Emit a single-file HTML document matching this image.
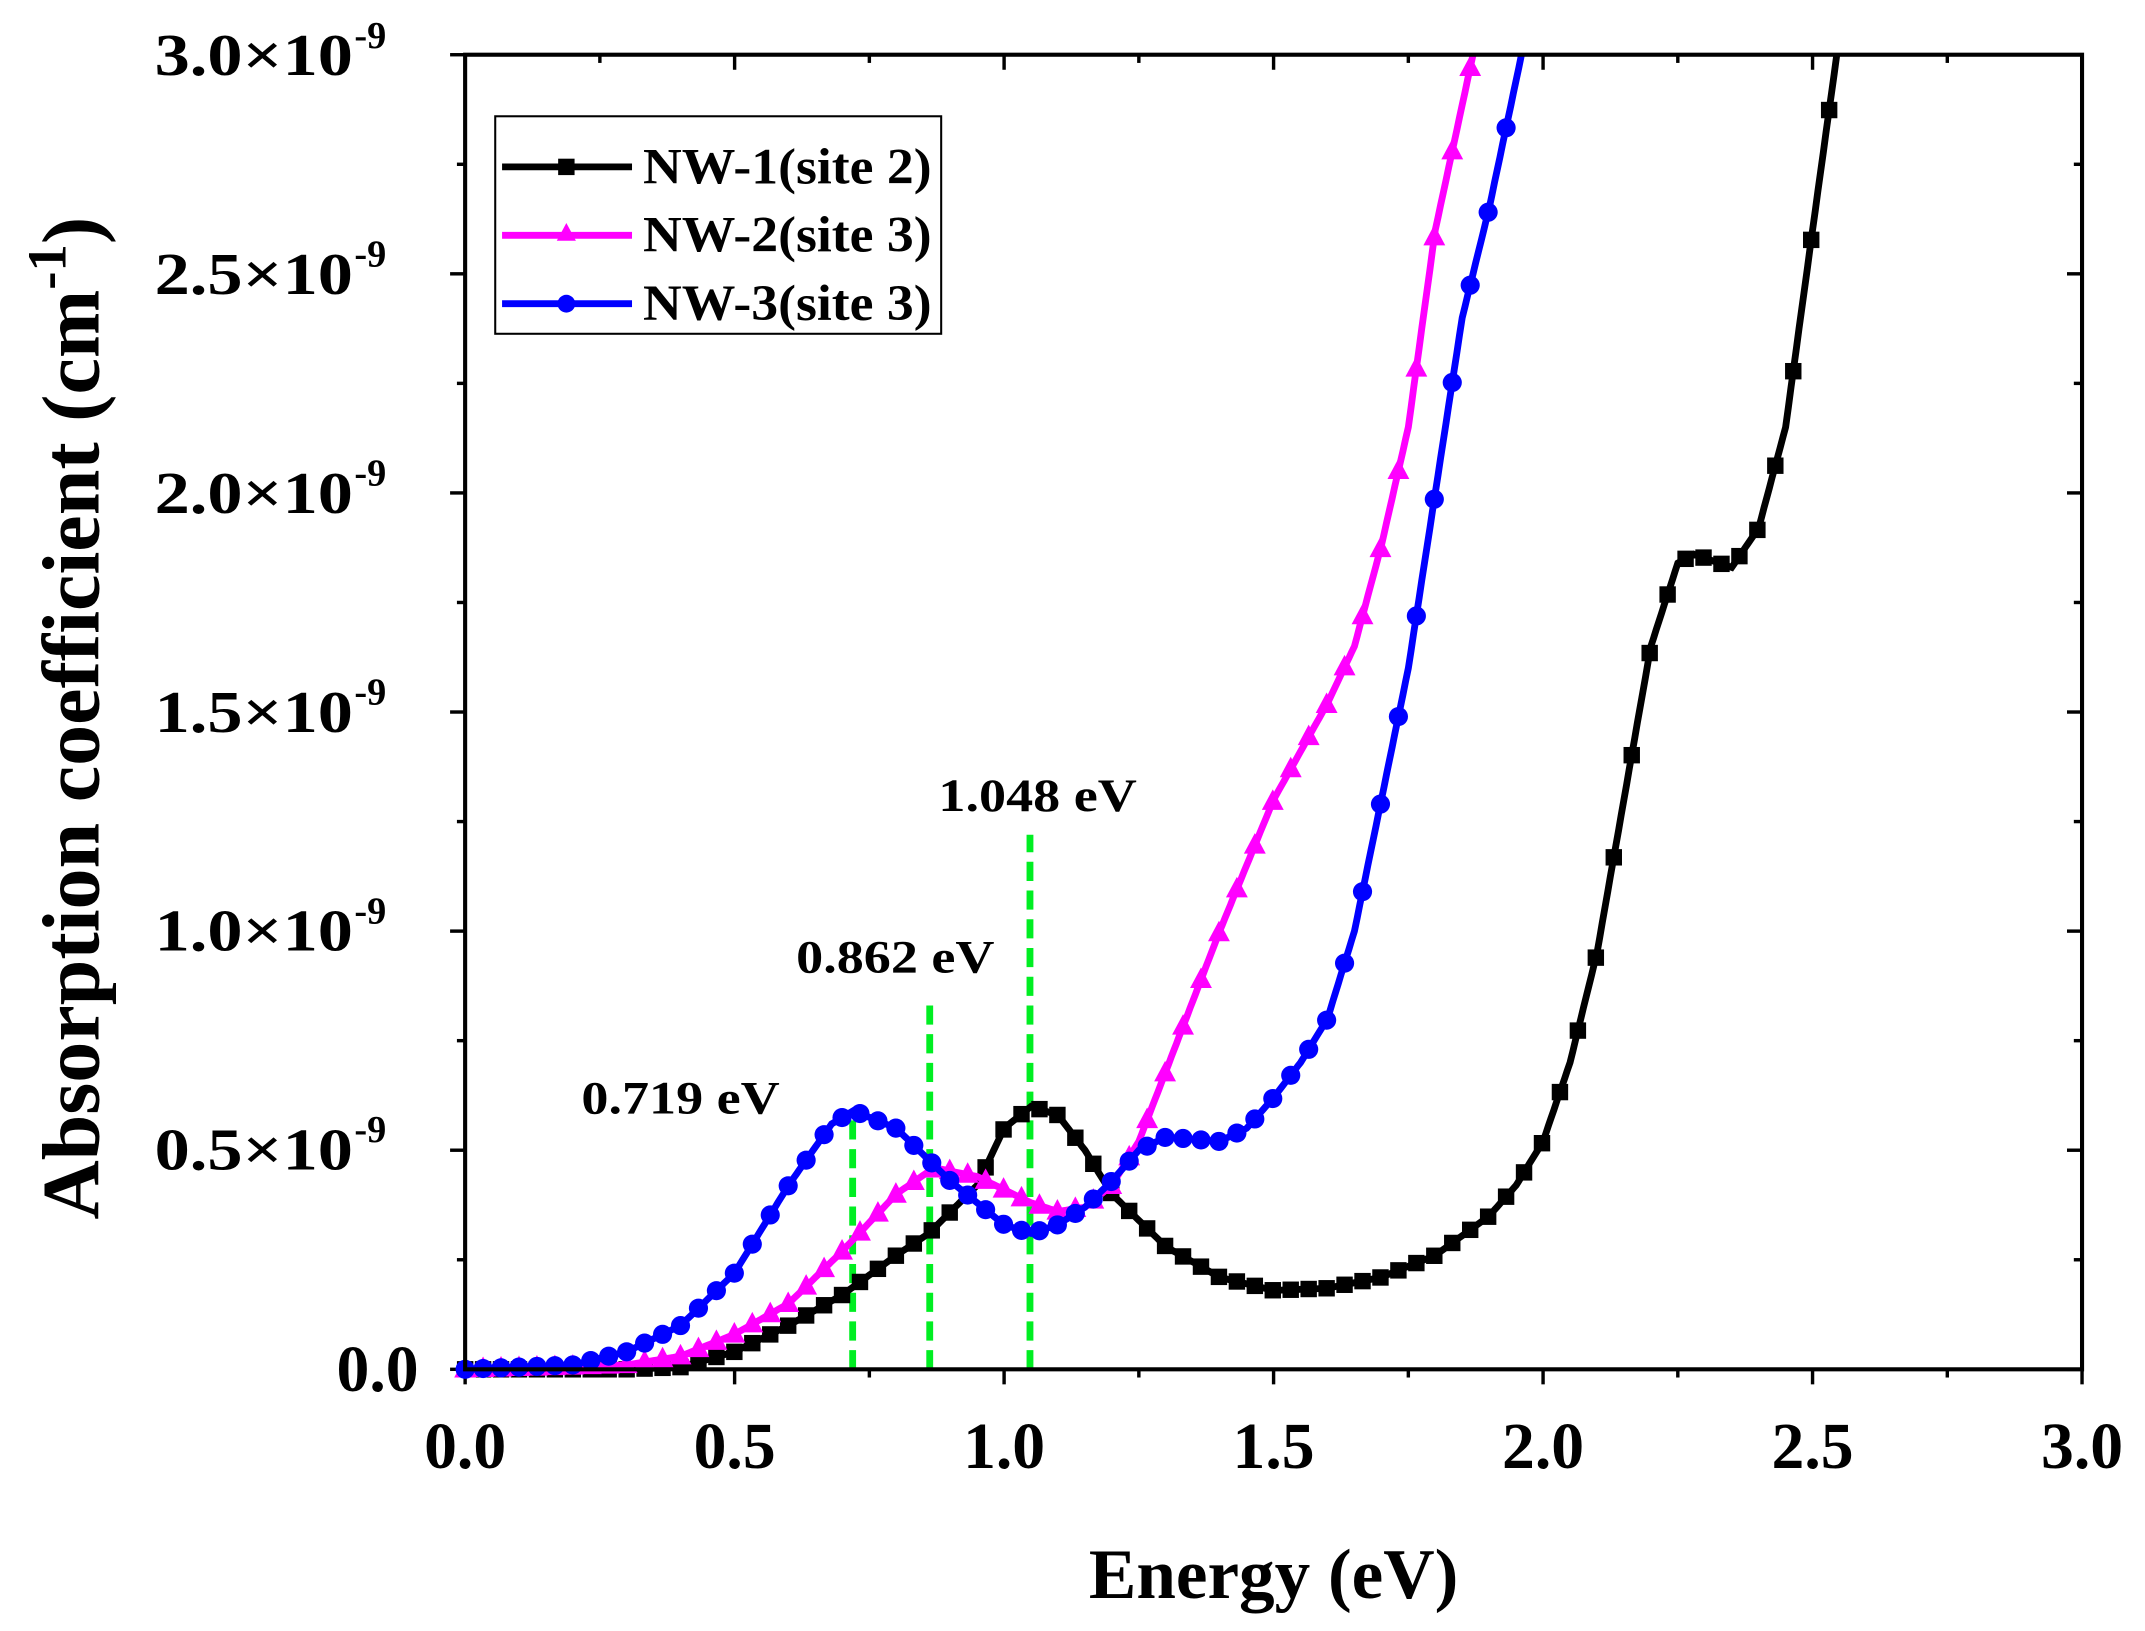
<!DOCTYPE html>
<html><head><meta charset="utf-8"><style>
html,body{margin:0;padding:0;background:#fff}
svg{display:block}
text{font-family:"Liberation Serif",serif;font-weight:bold;fill:#000}
</style></head><body>
<svg id="s" xmlns="http://www.w3.org/2000/svg" width="2145" height="1631" viewBox="0 0 1568 1192.3">
<rect width="1568" height="1193" fill="#fff"/>
<g id="ticks" stroke="#000" stroke-width="2.5"></g>
<g id="green" stroke="#00ee22" stroke-width="5" stroke-dasharray="14,7"></g>
<g id="series"></g>
<rect x="340" y="40" width="1182" height="961" fill="none" stroke="#000" stroke-width="3"/>
<text x="306" y="1017" font-size="48" text-anchor="end">0.0</text>
<g font-size="43" lengthAdjust="spacingAndGlyphs">
<text x="113" y="855" textLength="145" lengthAdjust="spacingAndGlyphs">0.5×10</text>
<text x="113" y="695" textLength="145" lengthAdjust="spacingAndGlyphs">1.0×10</text>
<text x="113" y="535" textLength="145" lengthAdjust="spacingAndGlyphs">1.5×10</text>
<text x="113" y="375" textLength="145" lengthAdjust="spacingAndGlyphs">2.0×10</text>
<text x="113" y="215" textLength="145" lengthAdjust="spacingAndGlyphs">2.5×10</text>
<text x="113" y="55" textLength="145" lengthAdjust="spacingAndGlyphs">3.0×10</text>
</g>
<g font-size="28">
<text x="259" y="835">-9</text><text x="259" y="675">-9</text><text x="259" y="515">-9</text>
<text x="259" y="355">-9</text><text x="259" y="195">-9</text><text x="259" y="35">-9</text>
</g>
<g font-size="48" text-anchor="middle">
<text x="340" y="1073">0.0</text><text x="537" y="1073">0.5</text><text x="734" y="1073">1.0</text>
<text x="931" y="1073">1.5</text><text x="1128" y="1073">2.0</text><text x="1325" y="1073">2.5</text><text x="1522" y="1073">3.0</text>
</g>
<text x="931" y="1168" font-size="52" text-anchor="middle">Energy (eV)</text>
<text transform="translate(72,525) rotate(-90)" font-size="60" text-anchor="middle">Absorption coefficient (cm<tspan font-size="40" dy="-24">-1</tspan><tspan dy="24">)</tspan></text>
<g font-size="34">
<text x="425" y="814" textLength="145" lengthAdjust="spacingAndGlyphs">0.719 eV</text>
<text x="582" y="711" textLength="145" lengthAdjust="spacingAndGlyphs">0.862 eV</text>
<text x="686" y="593" textLength="145" lengthAdjust="spacingAndGlyphs">1.048 eV</text>
</g>
<g>
<rect x="362" y="85" width="326" height="159" fill="#fff" stroke="#000" stroke-width="1.5"/>
<line x1="367" y1="122" x2="462" y2="122" stroke="#000" stroke-width="5"/><rect x="408" y="116" width="12" height="12" fill="#000"/>
<line x1="367" y1="172" x2="462" y2="172" stroke="#ff00ff" stroke-width="5"/><polygon points="414,163 421,176 407,176" fill="#ff00ff"/>
<line x1="367" y1="222" x2="462" y2="222" stroke="#0000ff" stroke-width="5"/><circle cx="414" cy="222" r="6.5" fill="#0000ff"/>
<text x="470" y="134" font-size="37" textLength="211" lengthAdjust="spacingAndGlyphs">NW-1(site 2)</text>
<text x="470" y="184" font-size="37" textLength="211" lengthAdjust="spacingAndGlyphs">NW-2(site 3)</text>
<text x="470" y="234" font-size="37" textLength="211" lengthAdjust="spacingAndGlyphs">NW-3(site 3)</text>
</g>
</svg>
<script>
var NS="http://www.w3.org/2000/svg";
function X(e){return 340+e*394}function Y(v){return 1001-v*320.33}
function el(p,t,a){var e=document.createElementNS(NS,t);for(var k in a)e.setAttribute(k,a[k]);p.appendChild(e);return e}
var tk=document.getElementById('ticks');
for(var i=0;i<=12;i++){var x=X(i*0.25),L=i%2?6:11;el(tk,'line',{x1:x,y1:1001,x2:x,y2:1001+L});el(tk,'line',{x1:x,y1:40,x2:x,y2:40+L});}
for(var i=0;i<=12;i++){var y=Y(i*0.25),L=i%2?6:11;el(tk,'line',{x1:340,y1:y,x2:340-L,y2:y});el(tk,'line',{x1:1522,y1:y,x2:1522-L,y2:y});}
var g=document.getElementById('green');
[[0.719,0.59],[0.862,0.85],[1.048,1.22]].forEach(function(d){el(g,'line',{x1:X(d[0]),y1:1001,x2:X(d[0]),y2:Y(d[1])})});
var B=[[0,0],[0.3,0],[0.4,0.005],[0.5,0.04],[0.6,0.1],[0.7,0.17],[0.8,0.26],[0.86,0.31],[0.95,0.42],[1.0,0.55],[1.05,0.6],[1.1,0.58],[1.15,0.5],[1.2,0.4],[1.3,0.28],[1.4,0.21],[1.5,0.18],[1.6,0.185],[1.7,0.21],[1.8,0.26],[1.9,0.35],[1.95,0.42],[2.0,0.52],[2.05,0.7],[2.1,0.95],[2.15,1.3],[2.2,1.65],[2.25,1.84],[2.28,1.86],[2.35,1.83],[2.4,1.92],[2.45,2.15],[2.5,2.6],[2.545,3.0]];
var M=[[0,0],[0.3,0.01],[0.4,0.03],[0.5,0.08],[0.6,0.15],[0.7,0.27],[0.8,0.4],[0.87,0.46],[0.95,0.44],[1.0,0.41],[1.05,0.38],[1.1,0.36],[1.15,0.37],[1.2,0.42],[1.25,0.52],[1.3,0.68],[1.4,1.0],[1.5,1.3],[1.6,1.52],[1.65,1.65],[1.7,1.88],[1.75,2.15],[1.8,2.6],[1.87,3.0]];
var C=[[0,0],[0.2,0.01],[0.3,0.04],[0.4,0.1],[0.5,0.22],[0.6,0.42],[0.68,0.56],[0.72,0.59],[0.8,0.55],[0.9,0.43],[1.0,0.33],[1.05,0.31],[1.1,0.33],[1.15,0.37],[1.2,0.43],[1.25,0.5],[1.3,0.53],[1.4,0.52],[1.45,0.55],[1.5,0.62],[1.55,0.7],[1.6,0.8],[1.65,1.0],[1.7,1.3],[1.75,1.6],[1.8,2.0],[1.85,2.4],[1.9,2.65],[1.96,3.0]];
function interp(d,e){for(var i=1;i<d.length;i++)if(e<=d[i][0]){var a=d[i-1],b=d[i];return a[1]+(b[1]-a[1])*(e-a[0])/(b[0]-a[0])}return null}
var S=document.getElementById('series');
function draw(d,col,type){var pts=[],end=d[d.length-1][0];
for(var e=0;e<=end+1e-9;e+=0.005)pts.push(X(e).toFixed(1)+','+Y(interp(d,e)).toFixed(1));
el(S,'polyline',{points:pts.join(' '),fill:'none',stroke:col,'stroke-width':5});
for(var e=0;e<=end;e+=0.0333){var x=X(e),y=Y(interp(d,e));
if(type==0)el(S,'rect',{x:x-6,y:y-6,width:12,height:12,fill:col});
else if(type==1)el(S,'polygon',{points:(x)+','+(y-9)+' '+(x+8)+','+(y+6)+' '+(x-8)+','+(y+6),fill:col});
else el(S,'circle',{cx:x,cy:y,r:7,fill:col});}}
draw(B,'#000',0);draw(M,'#ff00ff',1);draw(C,'#0000ff',2);
</script>
</body></html>
